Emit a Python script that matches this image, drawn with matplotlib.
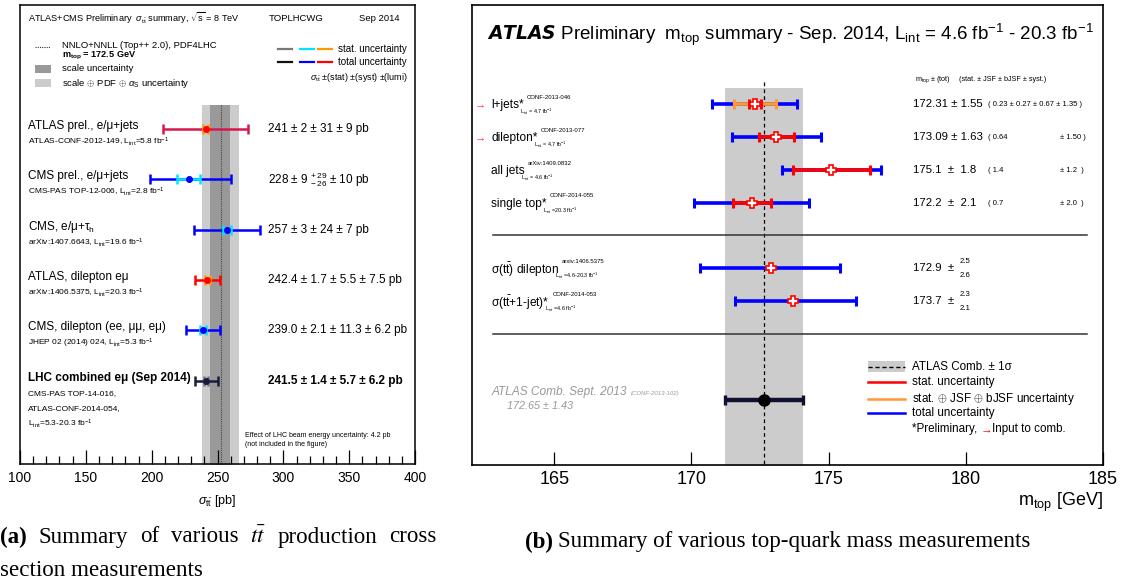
import numpy as np
import matplotlib
matplotlib.use('Agg')
import matplotlib.pyplot as plt
from matplotlib.patches import Rectangle
from matplotlib.transforms import blended_transform_factory

plt.rcParams['font.family'] = ['Liberation Sans', 'DejaVu Sans']
plt.rcParams['mathtext.fontset'] = 'custom'
plt.rcParams['mathtext.rm'] = 'Liberation Sans'
plt.rcParams['mathtext.it'] = 'Liberation Sans:italic'
plt.rcParams['mathtext.bf'] = 'Liberation Sans:bold'

W, H = 1133, 585
LINT = r'L$_{\mathrm{int}}$'
FB = r'fb$^{\mathrm{-1}}$'

# ---------------- (a) ttbar cross section data ----------------
xs_labels = ['ATLAS prel., e/μ+jets', 'CMS prel., e/μ+jets', r'CMS, e/μ+τ$_{\mathrm{h}}$',
             'ATLAS, dilepton eμ', 'CMS, dilepton (ee, μμ, eμ)', 'LHC combined eμ (Sep 2014)']
xs_refs = [['ATLAS-CONF-2012-149, ' + LINT + '=5.8 ' + FB],
           ['CMS-PAS TOP-12-006, ' + LINT + '=2.8 ' + FB],
           ['arXiv:1407.6643, ' + LINT + '=19.6 ' + FB],
           ['arXiv:1406.5375, ' + LINT + '=20.3 ' + FB],
           ['JHEP 02 (2014) 024, ' + LINT + '=5.3 ' + FB],
           ['CMS-PAS TOP-14-016,', 'ATLAS-CONF-2014-054,', LINT + '=5.3-20.3 ' + FB]]
xs_texts = ['241 ± 2 ± 31 ± 9 pb', r'228 ± 9 $^{+\,29}_{-\,26}$ ± 10 pb', '257 ± 3 ± 24 ± 7 pb',
            '242.4 ± 1.7 ± 5.5 ± 7.5 pb', '239.0 ± 2.1 ± 11.3 ± 6.2 pb', '241.5 ± 1.4 ± 5.7 ± 6.2 pb']
xs_val = [241.0, 228.0, 257.0, 242.4, 239.0, 241.5]
xs_stat = [2.0, 9.0, 3.0, 1.7, 2.1, 1.4]
xs_syst_up = [31.0, 29.0, 24.0, 5.5, 11.3, 5.7]
xs_syst_dn = [31.0, 26.0, 24.0, 5.5, 11.3, 5.7]
xs_lumi = [9.0, 10.0, 7.0, 7.5, 6.2, 6.2]
xs_tot_col = ['#d8174f', '#0000ff', '#0000ff', '#ff0000', '#0000ff', '#1c1c3a']
xs_stat_col = ['#ff9900', '#00e5ff', '#00e5ff', '#ff9900', '#00e5ff', '#6a7a8a']

theory_val = 252.9
theory_scale = (8.6, 6.4)
theory_full = (14.5, 13.3)

# ---------------- (b) top mass data ----------------
m_labels = ['l+jets*', 'dilepton*', 'all jets', 'single top*',
            r'σ($\mathrm{t\bar{t}}$) dilepton', r'σ($\mathrm{t\bar{t}}$+1-jet)*']
m_refs = ['CONF-2013-046', 'CONF-2013-077', 'arXiv:1409.0832', 'CONF-2014-055', 'arxiv:1406.5375', 'CONF-2014-053']
m_lumis = [LINT + ' = 4.7 ' + FB, LINT + ' = 4.7 ' + FB, LINT + ' = 4.6 ' + FB,
           LINT + ' =20.3 ' + FB, LINT + ' =4.6-20.3 ' + FB, LINT + ' =4.6 ' + FB]
m_input = [True, True, False, False, False, False]
m_val = [172.31, 173.09, 175.1, 172.2, 172.9, 173.7]
m_tot_up = [1.55, 1.63, 1.8, 2.1, 2.5, 2.3]
m_tot_dn = [1.55, 1.63, 1.8, 2.1, 2.6, 2.1]
m_stat = [0.23, 0.64, 1.4, 0.7, None, None]
m_jsf_stat = [0.76, None, None, None, None, None]
m_val_txt = ['172.31 ± 1.55', '173.09 ± 1.63', '175.1  ±  1.8', '172.2  ±  2.1', '172.9  ±', '173.7  ±']
m_brk_a = ['( 0.23 ± 0.27 ± 0.67 ± 1.35 )', '( 0.64', '( 1.4', '( 0.7', '', '']
m_brk_b = ['', '± 1.50 )', '± 1.2  )', '± 2.0  )', '', '']
m_asym = [None, None, None, None, ('2.5', '2.6'), ('2.3', '2.1')]
comb_val, comb_err = 172.65, 1.43

fig = plt.figure(figsize=(W / 100, H / 100), dpi=100)

# =============== left panel ===============
ax1 = fig.add_axes([20 / W, 1 - 464 / H, 395 / W, 459 / H])
ax1.set_xlim(100, 400)
ax1.set_ylim(6.65, -2.46)
ax1.fill_betweenx([-0.48, 7], theory_val - theory_full[0], theory_val + theory_full[1],
                  color='#cccccc', lw=0, zorder=0)
ax1.fill_betweenx([-0.48, 7], theory_val - theory_scale[0], theory_val + theory_scale[1],
                  color='#999999', lw=0, zorder=0)
ax1.plot([theory_val, theory_val], [-0.48, 7], color='#444444', ls=(0, (1, 1)), lw=0.8, zorder=1)

for i in range(len(xs_val)):
    lo = np.sqrt(xs_stat[i] ** 2 + xs_syst_dn[i] ** 2 + xs_lumi[i] ** 2)
    hi = np.sqrt(xs_stat[i] ** 2 + xs_syst_up[i] ** 2 + xs_lumi[i] ** 2)
    ax1.errorbar(xs_val[i], i, xerr=[[lo], [hi]], fmt='none', ecolor=xs_tot_col[i],
                 elinewidth=1.8, capsize=3.6, capthick=1.8, zorder=3)
    ax1.errorbar(xs_val[i], i, xerr=xs_stat[i], fmt='none', ecolor=xs_stat_col[i],
                 elinewidth=1.8, capsize=3.6, capthick=1.8, zorder=4)
    ax1.plot(xs_val[i], i, 'o', color=xs_tot_col[i] if i != 0 else '#ff0000', ms=4, zorder=5)

tr1 = blended_transform_factory(ax1.transAxes, ax1.transData)
fx1 = lambda px: (px - 20) / 395
for i in range(len(xs_val)):
    bold = 'bold' if i == 5 else 'normal'
    ax1.text(fx1(28), i - 0.06, xs_labels[i], transform=tr1, fontsize=8.5, va='center', weight=bold)
    for k, r in enumerate(xs_refs[i]):
        ax1.text(fx1(28), i + 0.25 + 0.3 * k, r, transform=tr1, fontsize=6, va='center')
    ax1.text(fx1(268), i, xs_texts[i], transform=tr1, fontsize=8.5, va='center', weight=bold)

ax1.text(fx1(28), -2.2, r'ATLAS+CMS Preliminary  $\sigma_{\mathrm{t\bar{t}}}$ summary, $\sqrt{\mathrm{s}}$ = 8 TeV',
         transform=tr1, fontsize=6.6, va='center')
ax1.text(fx1(269), -2.2, 'TOPLHCWG', transform=tr1, fontsize=6.8, va='center')
ax1.text(fx1(359), -2.2, 'Sep 2014', transform=tr1, fontsize=6.8, va='center')
# theory legend
ax1.plot([fx1(35), fx1(50)], [-1.63, -1.63], transform=tr1, color='#333333', ls=(0, (1, 1)), lw=0.8)
ax1.text(fx1(62), -1.66, 'NNLO+NNLL (Top++ 2.0), PDF4LHC', transform=tr1, fontsize=6.8, va='center')
ax1.text(fx1(62), -1.45, r'$\mathbf{m}_{\mathbf{top}}$ = 172.5 GeV', transform=tr1, fontsize=6.6,
         va='center', weight='bold')
ax1.add_patch(Rectangle((fx1(35), -1.26), 16 / 395, 0.15, transform=tr1, color='#999999', lw=0))
ax1.text(fx1(62), -1.2, 'scale uncertainty', transform=tr1, fontsize=6.8, va='center')
ax1.add_patch(Rectangle((fx1(35), -0.99), 16 / 395, 0.16, transform=tr1, color='#cccccc', lw=0))
ax1.text(fx1(62), -0.91, r'scale $\oplus$ PDF $\oplus$ $\alpha_{\mathrm{S}}$ uncertainty', transform=tr1,
         fontsize=6.8, va='center')
# measurement legend
for j, (ca, cb) in enumerate(zip(['#777777', '#00e5ff', '#ff9900'], ['#111111', '#0000ff', '#ff0000'])):
    x0 = [278, 300, 318][j]
    ax1.plot([fx1(x0), fx1(x0 + 14)], [-1.59, -1.59], transform=tr1, color=ca, lw=1.6)
    ax1.plot([fx1(x0), fx1(x0 + 14)], [-1.33, -1.33], transform=tr1, color=cb, lw=1.6)
ax1.text(fx1(338), -1.59, 'stat. uncertainty', transform=tr1, fontsize=7, va='center')
ax1.text(fx1(338), -1.33, 'total uncertainty', transform=tr1, fontsize=7, va='center')
ax1.text(fx1(408), -1.03, r'$\sigma_{\mathrm{t\bar{t}}}$ ±(stat) ±(syst) ±(lumi)', transform=tr1,
         fontsize=6.5, va='center', ha='right')
ax1.text(fx1(245), 6.09, 'Effect of LHC beam energy uncertainty: 4.2 pb', transform=tr1, fontsize=5, va='center')
ax1.text(fx1(245), 6.26, '(not included in the figure)', transform=tr1, fontsize=5, va='center')

ax1.set_yticks([])
ax1.set_xticks([100, 150, 200, 250, 300, 350, 400])
ax1.set_xticks(np.arange(110, 400, 10), minor=True)
ax1.tick_params(axis='x', which='major', direction='in', length=10, width=0.9, labelsize=10, pad=5)
ax1.tick_params(axis='x', which='minor', direction='in', length=5.5, width=0.9)
for s in ax1.spines.values():
    s.set_linewidth(1.1)
ax1.set_xlabel(r'$\sigma_{\mathrm{t\bar{t}}}$ [pb]', fontsize=9, labelpad=6)

# =============== right panel ===============
ax2 = fig.add_axes([472 / W, 1 - 465 / H, 631 / W, 460 / H])
ax2.set_xlim(162, 185)
ax2.set_ylim(10.97, -3.0)
ax2.fill_betweenx([-0.48, 11], comb_val - comb_err, comb_val + comb_err, color='#cccccc', lw=0, zorder=0)
ax2.plot([comb_val, comb_val], [-0.65, 11], color='black', ls=(0, (3, 2.5)), lw=0.9, zorder=1)

rows = [0, 1, 2, 3, 5, 6]
for i, y in enumerate(rows):
    ax2.errorbar(m_val[i], y, xerr=[[m_tot_dn[i]], [m_tot_up[i]]], fmt='none', ecolor='#0000ff',
                 elinewidth=2.6, capsize=3.6, capthick=2.2, zorder=3)
    if m_jsf_stat[i] is not None:
        ax2.errorbar(m_val[i], y, xerr=m_jsf_stat[i], fmt='none', ecolor='#ff9933',
                     elinewidth=2.6, capsize=3.6, capthick=2.2, zorder=4)
    if m_stat[i] is not None:
        ax2.errorbar(m_val[i], y, xerr=m_stat[i], fmt='none', ecolor='#ff0000',
                     elinewidth=2.6, capsize=3.6, capthick=2.2, zorder=5)
    ax2.plot(m_val[i], y, 'P', ms=7, mfc='white', mec='#ff0000', mew=1.2, zorder=6)

ax2.errorbar(comb_val, 9, xerr=comb_err, fmt='none', ecolor='#101030', elinewidth=3.2,
             capsize=3.6, capthick=2.4, zorder=3)
ax2.plot(comb_val, 9, 'o', color='black', ms=8, zorder=6)
for ys in [4, 7]:
    ax2.plot([162.75, 184.4], [ys, ys], color='#333333', lw=1.1, zorder=2)

tr2 = blended_transform_factory(ax2.transAxes, ax2.transData)
fx2 = lambda px: (px - 472) / 631
fig.canvas.draw()
rend = fig.canvas.get_renderer()
inv = ax2.transAxes.inverted()


def right_edge(t):
    return inv.transform((t.get_window_extent(rend).x1, 0))[0]


for i, y in enumerate(rows):
    t = ax2.text(fx2(491), y + 0.03, m_labels[i], transform=tr2, fontsize=8.6, va='center')
    xr = right_edge(t)
    ax2.text(xr + 3 / 631, y - 0.2, m_refs[i], transform=tr2, fontsize=4.3, va='center')
    ax2.text(xr - 4 / 631, y + 0.24, m_lumis[i], transform=tr2, fontsize=3.9, va='center')
    if m_input[i]:
        ax2.text(fx2(475), y + 0.03, '→', transform=tr2, fontsize=8, va='center', color='#ff3333')
    ax2.text(fx2(913), y, m_val_txt[i], transform=tr2, fontsize=8.2, va='center')
    ax2.text(fx2(988), y + 0.03, m_brk_a[i], transform=tr2, fontsize=5.5, va='center')
    ax2.text(fx2(1060), y + 0.03, m_brk_b[i], transform=tr2, fontsize=5.5, va='center')
    if m_asym[i] is not None:
        ax2.text(fx2(960), y - 0.2, m_asym[i][0], transform=tr2, fontsize=5.6, va='center')
        ax2.text(fx2(960), y + 0.22, m_asym[i][1], transform=tr2, fontsize=5.6, va='center')

ax2.text(fx2(487), -2.09, r'$\mathbfit{ATLAS}$ Preliminary  m$_{\mathrm{top}}$ summary - Sep. 2014, '
         r'L$_{\mathrm{int}}$ = 4.6 fb$^{\mathrm{-1}}$ - 20.3 fb$^{\mathrm{-1}}$',
         transform=tr2, fontsize=13.5, va='center')
ax2.text(fx2(915), -0.73, r'm$_{\mathrm{top}}$ ± (tot)', transform=tr2, fontsize=5.2, va='center')
ax2.text(fx2(959), -0.73, '(stat. ± JSF ± bJSF ± syst.)', transform=tr2, fontsize=5.2, va='center')

# combination text
t = ax2.text(fx2(492), 8.76, 'ATLAS Comb. Sept. 2013', transform=tr2, fontsize=8.6, va='center',
             style='italic', color='#999999')
ax2.text(right_edge(t) + 3 / 631, 8.8, '(CONF-2013-102)', transform=tr2, fontsize=4.3, va='center',
         style='italic', color='#999999')
ax2.text(fx2(507), 9.18, '172.65 ± 1.43', transform=tr2, fontsize=7.8, va='center',
         style='italic', color='#999999')

# legend
ax2.add_patch(Rectangle((fx2(868), 7.8), 37 / 631, 0.36, transform=tr2, color='#cccccc', lw=0))
ax2.plot([fx2(868), fx2(905)], [7.98, 7.98], transform=tr2, color='black', ls=(0, (3, 2)), lw=1)
leg_txt = ['ATLAS Comb. ± 1σ', 'stat. uncertainty', r'stat. $\oplus$ JSF $\oplus$ bJSF uncertainty',
           'total uncertainty']
leg_col = [None, '#ff0000', '#ff9933', '#0000ff']
leg_y = [7.98, 8.45, 8.97, 9.39]
for txt, c, yy in zip(leg_txt, leg_col, leg_y):
    if c is not None:
        ax2.plot([fx2(868), fx2(905)], [yy, yy], transform=tr2, color=c, lw=1.8)
    ax2.text(fx2(912), yy, txt, transform=tr2, fontsize=8.4, va='center')
t = ax2.text(fx2(912), 9.88, '*Preliminary, ', transform=tr2, fontsize=8.4, va='center')
t2 = ax2.text(right_edge(t), 9.88, '→', transform=tr2, fontsize=8.4, va='center', color='#ff0000')
ax2.text(right_edge(t2), 9.88, 'Input to comb.', transform=tr2, fontsize=8.4, va='center')

ax2.set_yticks([])
ax2.set_xticks([165, 170, 175, 180, 185])
ax2.tick_params(axis='x', direction='in', length=9.5, width=0.9, labelsize=13, pad=4)
for s in ax2.spines.values():
    s.set_linewidth(1.2)
ax2.set_xlabel(r'm$_{\mathrm{top}}$ [GeV]', fontsize=13, loc='right', labelpad=2)


# captions (serif, first line of (a) justified)
CAP = 16.6


def cap_text(x, y, s, bold=False):
    return fig.text(x / W, 1 - y / H, s, fontsize=CAP, family='Liberation Serif', va='center',
                    weight='bold' if bold else 'normal', math_fontfamily='stix')


words = ['(a)', 'Summary', 'of', 'various', r'$t\bar{t}$', 'production', 'cross']
texts = [cap_text(0, 537, w, bold=(k == 0)) for k, w in enumerate(words)]
widths = [tt.get_window_extent(rend).width for tt in texts]
gap = (437 - sum(widths)) / (len(words) - 1)
xpos = 0
for tt, wd in zip(texts, widths):
    tt.set_x(xpos / W)
    xpos += wd + gap
cap_text(0, 570, 'section measurements')
tb = cap_text(525, 542, '(b)', bold=True)
cap_text(525 + tb.get_window_extent(rend).width + 5, 542, 'Summary of various top-quark mass measurements')

fig.savefig('out.png', dpi=100)
